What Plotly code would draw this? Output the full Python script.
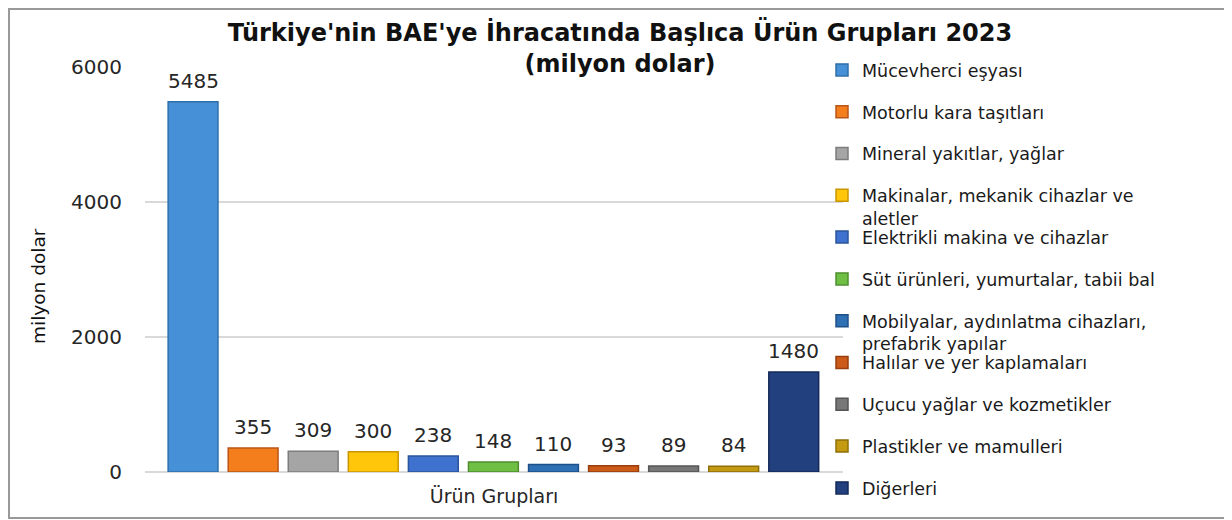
import plotly.graph_objects as go

urun_gruplari = [
    "Mücevherci eşyası",
    "Motorlu kara taşıtları",
    "Mineral yakıtlar, yağlar",
    "Makinalar, mekanik cihazlar ve<br>aletler",
    "Elektrikli makina ve cihazlar",
    "Süt ürünleri, yumurtalar, tabii bal",
    "Mobilyalar, aydınlatma cihazları,<br>prefabrik yapılar",
    "Halılar ve yer kaplamaları",
    "Uçucu yağlar ve kozmetikler",
    "Plastikler ve mamulleri",
    "Diğerleri",
]
ihracat = [5485, 355, 309, 300, 238, 148, 110, 93, 89, 84, 1480]
renkler = ["#4590d6", "#f47d1c", "#a5a5a5", "#ffc60a", "#3f72cf", "#6fbf45",
           "#2f6fb3", "#cc5a18", "#777777", "#c39a12", "#22407e"]
kenar = ["#2f6fa8", "#b9561a", "#7d7d7d", "#c89600", "#2b549c", "#4e8e2e",
         "#1f5088", "#973f0e", "#555555", "#8f700a", "#14295a"]

FONT = "DejaVu Sans"
OFF = 8  # page body margin
W, H = 1232 - OFF, 520 - OFF
plot_l, plot_r, plot_t, plot_b = 145 - OFF, 843 - OFF, 67 - OFF, 472 - OFF
ph = plot_b - plot_t
pw = plot_r - plot_l

fig = go.Figure()
layout_legends = {}
etiketler = []
for i, (ad, deger) in enumerate(zip(urun_gruplari, ihracat)):
    key = "legend" if i == 0 else f"legend{i + 1}"
    fig.add_trace(go.Bar(
        x=[ad], y=[deger], name=ad,
        marker=dict(color=renkler[i], line=dict(color=kenar[i], width=1.5)),
        legend=key, showlegend=True,
    ))
    etiketler.append(dict(
        x=ad, y=deger, text=str(deger), showarrow=False,
        yanchor="bottom", yshift=7,
        font=dict(family=FONT, size=20, color="#262626"),
    ))
    y_top = 70 + 41.8 * i - 18 - OFF
    layout_legends[key] = dict(
        visible=True,
        x=(822 - OFF - plot_l) / pw, xanchor="left",
        y=(plot_b - y_top) / ph, yanchor="top",
        valign="top", bgcolor="rgba(0,0,0,0)", borderwidth=0,
        font=dict(family=FONT, size=17.5, color="#1a1a1a"),
    )

# y ekseni başlığı (referansta eksen ortasının biraz altında)
etiketler.append(dict(
    text="milyon dolar", textangle=-90, showarrow=False,
    xref="paper", yref="paper",
    x=(38 - OFF - plot_l) / pw, y=(plot_b - (286 - OFF)) / ph,
    xanchor="center", yanchor="middle",
    font=dict(family=FONT, size=18.5, color="#111111"),
))

fig.update_layout(
    width=W, height=H,
    margin=dict(l=plot_l, r=W - plot_r, t=plot_t, b=H - plot_b, autoexpand=False),
    paper_bgcolor="white", plot_bgcolor="white",
    showlegend=True,
    barmode="relative", bargap=0.17,
    title=dict(
        text="<b>Türkiye'nin BAE'ye İhracatında Başlıca Ürün Grupları 2023<br>(milyon dolar)</b>",
        x=0.5, xanchor="center", yref="container", y=1 - 33 / H, yanchor="top",
        font=dict(family=FONT, size=24, color="#111111"),
    ),
    xaxis=dict(
        showticklabels=False, showgrid=False, zeroline=False,
        range=[-0.8, 10.82],
        title=dict(text="Ürün Grupları", font=dict(family=FONT, size=19, color="#262626"), standoff=17),
    ),
    yaxis=dict(
        range=[0, 6000], tickvals=[0, 2000, 4000, 6000],
        showgrid=True, gridcolor="#d9d9d9", gridwidth=1.5,
        zeroline=True, zerolinecolor="#d9d9d9", zerolinewidth=1.5,
        tickfont=dict(family=FONT, size=20, color="#262626"),
        ticks="", ticklabelstandoff=22,
    ),
    annotations=etiketler,
    shapes=[dict(
        type="rect", xref="paper", yref="paper",
        x0=(1 - plot_l) / pw, x1=(1227 - OFF - plot_l) / pw,
        y0=(plot_b - (518 - OFF)) / ph, y1=(plot_b - 1) / ph,
        line=dict(color="#999999", width=2), fillcolor="rgba(0,0,0,0)", layer="below",
    )],
    **layout_legends,
)

fig.write_html("out.html")
